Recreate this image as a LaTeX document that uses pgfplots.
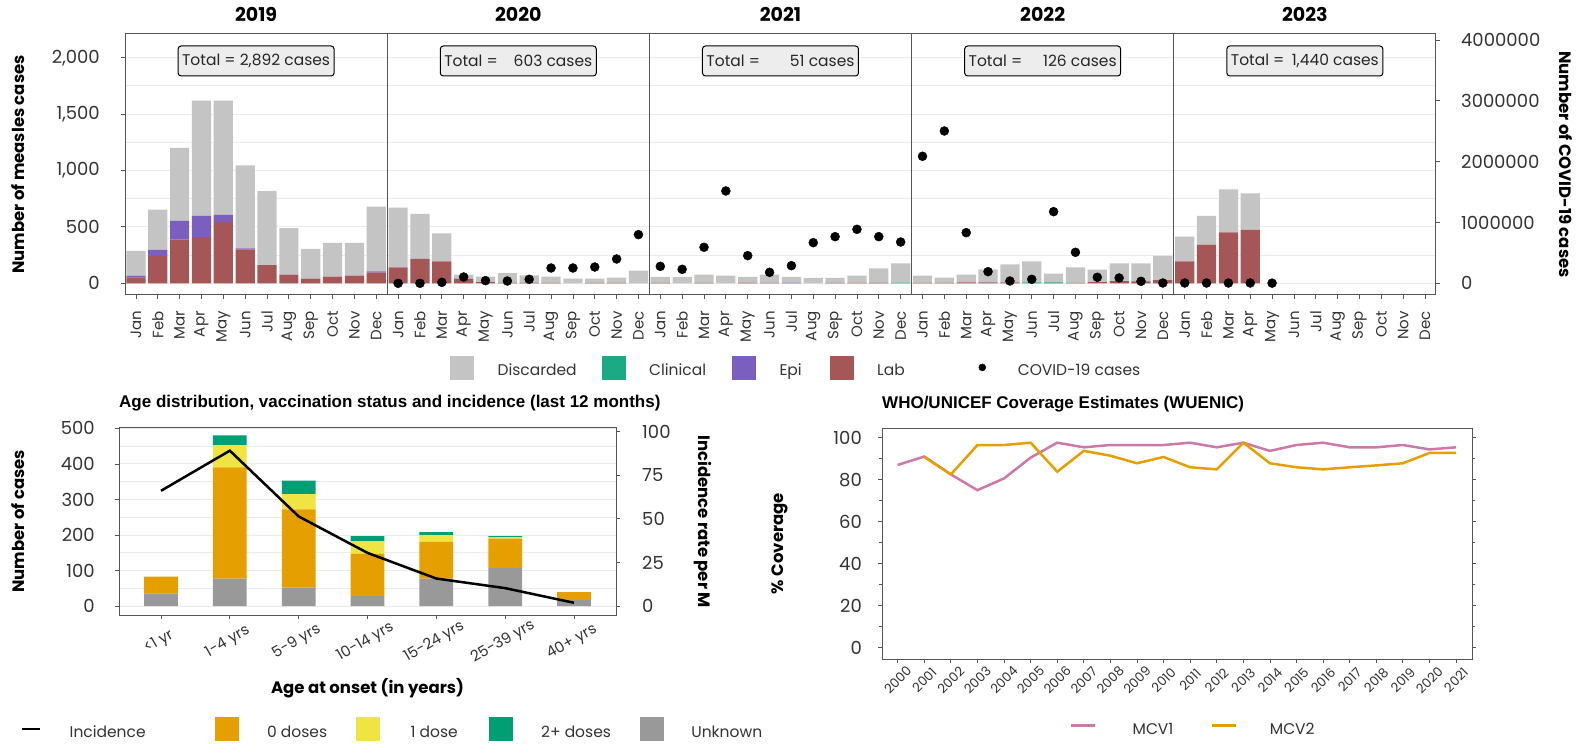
\documentclass[border=0pt]{standalone}
\usepackage{pgfplots}
\pgfplotsset{compat=1.18}
\usepackage{pgfplotstable}
\usepackage{fontspec}
\setmainfont{Poppins}
\newfontfamily\titlefont{Liberation Sans}

\newcommand\fsz[1]{\fontsize{#1}{#1}\selectfont}

\definecolor{disc}{HTML}{C4C4C4}
\definecolor{clin}{HTML}{1BAA83}
\definecolor{epi}{HTML}{7B5FC0}
\definecolor{lab}{HTML}{A55656}
\definecolor{dose0}{HTML}{E69F00}
\definecolor{dose1}{HTML}{F0E442}
\definecolor{dose2}{HTML}{009E73}
\definecolor{unk}{HTML}{999999}
\definecolor{mcv1}{HTML}{CC79A7}
\definecolor{mcv2}{HTML}{E69F00}
\definecolor{txt}{HTML}{333333}
\definecolor{frame}{HTML}{555555}
\definecolor{gridc}{HTML}{EBEBEB}
\definecolor{boxfill}{HTML}{EDEDED}

\pgfplotsset{
  /pgf/number format/assume math mode=true,
  every axis/.append style={
    scale only axis,
    axis line style={frame, line width=1pt},
    tick style={frame, line width=0.8pt},
    tick label style={font=\fsz{18}, text=txt},
    legend cell align=left,
  },
}

% monthly measles cases by classification, Jan 2019 = 1
\pgfplotstableread{
x  lab epi clin disc
1  53  12  0  222
2  242 54  0  357
3  387 166 0  647
4  408 189 0  1022
5  544 62  0  1013
6  301 9   0  736
7  160 0   0  656
8  77  0   0  411
9  41  0   0  263
10 59  0   0  299
11 68  0   0  290
12 95  11  0  574
13 142 0   0  529
14 216 0   0  399
15 195 0   0  248
16 41  0   0  36
17 10  0   0  49
18 5   0   0  84
19 5   0   0  66
20 3   0   0  56
21 0   0   0  41
22 3   0   0  38
23 3   0   0  47
24 0   0   0  112
25 4   0   0  52
26 0   0   0  56
27 4   0   0  73
28 0   0   0  68
29 6   0   0  50
30 4   0   0  73
31 0   4   0  52
32 0   0   0  47
33 4   0   0  43
34 4   0   0  64
35 6   0   0  127
36 0   0   6  171
37 4   0   0  64
38 3   0   0  47
39 7   0   0  70
40 7   0   0  117
41 7   0   0  161
42 0   0   7  188
43 4   0   5  77
44 3   0   0  139
45 10  0   0  111
46 18  0   0  159
47 17  0   0  160
48 28  0   0  214
49 195 0   0  219
50 343 0   0  254
51 452 0   0  381
52 473 0   0  325
}\measles

% monthly COVID-19 cases
\pgfplotstableread{
x  c
13 0
14 0
15 16000
16 104000
17 44000
18 38000
19 66000
20 252000
21 252000
22 268000
23 400000
24 800000
25 279000
26 230000
27 592000
28 1518000
29 455000
30 181000
31 290000
32 668000
33 767000
34 888000
35 767000
36 679000
37 2088000
38 2504000
39 833000
40 192000
41 38000
42 66000
43 1178000
44 510000
45 99000
46 88000
47 33000
48 5000
49 5000
50 5000
51 5000
52 5000
53 3000
}\covid

% age groups: cases by vaccination status, incidence per million
\pgfplotstableread{
x unk zero one two inc
0 36  47   0   0   66.1
1 77  313  63  27  89.1
2 52  220  43  38  51.4
3 28  119  35  15  30.5
4 77  104  19  8   15.8
5 107 83   3   4   10.3
6 17  22   0   0   1.9
}\agegroups

% WUENIC coverage
\pgfplotstableread{
year mcv1
2000 87
2001 91
2002 82.5
2003 75
2004 80.6
2005 90.5
2006 97.6
2007 95.4
2008 96.5
2009 96.5
2010 96.5
2011 97.6
2012 95.4
2013 97.6
2014 93.7
2015 96.5
2016 97.6
2017 95.4
2018 95.4
2019 96.5
2020 94.4
2021 95.4
}\mcvone
\pgfplotstableread{
year mcv2
2001 90.8
2002 82.5
2003 96.5
2004 96.5
2005 97.6
2006 83.8
2007 93.7
2008 91.4
2009 87.8
2010 90.8
2011 85.9
2012 84.9
2013 97.6
2014 87.8
2015 85.9
2016 84.9
2017 85.9
2018 86.8
2019 87.8
2020 92.7
2021 92.7
}\mcvtwo

\tikzset{
  totalbox/.style={draw=black, line width=1pt, fill=boxfill, rounded corners=3pt,
    inner xsep=4pt, minimum height=30pt, font=\fsz{15.5}, text=black!85, yshift=-27pt},
  yeartitle/.style={anchor=base, font=\fsz{19}\bfseries, yshift=12pt},
}
\newcommand\total[1]{Total = \hphantom{2,892}\llap{#1} cases}

\begin{document}
\begin{tikzpicture}
\useasboundingbox (0pt,0pt) rectangle (1585pt,745pt);

% ---------- monthly cases, 2019-2023 ----------
\begin{axis}[
  at={(125pt,450pt)}, anchor=south west,
  width=1311pt, height=261pt,
  xmin=0.5, xmax=60.5, ymin=-104, ymax=2210,
  ybar stacked, bar width=0.88,
  clip=false,
  xtick={1,...,60},
  xticklabels={Jan,Feb,Mar,Apr,May,Jun,Jul,Aug,Sep,Oct,Nov,Dec,
               Jan,Feb,Mar,Apr,May,Jun,Jul,Aug,Sep,Oct,Nov,Dec,
               Jan,Feb,Mar,Apr,May,Jun,Jul,Aug,Sep,Oct,Nov,Dec,
               Jan,Feb,Mar,Apr,May,Jun,Jul,Aug,Sep,Oct,Nov,Dec,
               Jan,Feb,Mar,Apr,May,Jun,Jul,Aug,Sep,Oct,Nov,Dec},
  xticklabel style={yshift=-12pt, rotate=90, anchor=east, inner sep=0pt, font=\fsz{15}},
  xtick pos=bottom, ytick pos=left, tick align=outside,
  major tick length=4pt, minor tick length=0pt,
  ytick={0,500,...,2000}, minor ytick={250,750,1250,1750},
  yticklabel style={/pgf/number format/1000 sep={,}, inner sep=0pt, xshift=-21pt},
  ymajorgrids, yminorgrids,
  major grid style={gridc, line width=1pt}, minor grid style={gridc, line width=1pt},
  extra x ticks={12.5,24.5,36.5,48.5}, extra x tick labels={},
  extra x tick style={grid=major, major tick length=0pt,
    major grid style={frame, line width=1pt}},
  ylabel={Number of measles cases},
  ylabel style={at={(axis description cs:-0.0812,0.5)}, anchor=center, font=\fsz{16.5}\bfseries},
  legend columns=-1,
  legend style={at={(0.2479,-0.2778)}, anchor=west, draw=none, fill=none, inner sep=0pt,
    font=\fsz{15.5}, text=txt, nodes={inner sep=0pt},
    /tikz/every odd column/.style={column sep=24pt},
    /tikz/column 2/.style={column sep=25pt},
    /tikz/column 4/.style={column sep=26pt},
    /tikz/column 6/.style={column sep=28pt},
    /tikz/column 8/.style={column sep=66pt}},
]
\addlegendimage{legend image code/.code={\fill[disc] (0pt,-8.6pt) rectangle (23pt,14.4pt);}}
\addlegendentry{Discarded}
\addlegendimage{legend image code/.code={\fill[clin] (0pt,-8.6pt) rectangle (23pt,14.4pt);}}
\addlegendentry{Clinical}
\addlegendimage{legend image code/.code={\fill[epi] (0pt,-8.6pt) rectangle (23pt,14.4pt);}}
\addlegendentry{Epi}
\addlegendimage{legend image code/.code={\fill[lab] (0pt,-8.6pt) rectangle (23pt,14.4pt);}}
\addlegendentry{Lab}
\addlegendimage{legend image code/.code={\path[draw=none, fill=none] (0pt,-8.6pt) rectangle (23pt,14.4pt);
  \fill[black] (11.5pt,3pt) circle (3.5pt);}}
\addlegendentry{COVID-19 cases}

\addplot[fill=lab,  draw=none] table[x=x, y=lab]  {\measles};
\addplot[fill=epi,  draw=none] table[x=x, y=epi]  {\measles};
\addplot[fill=clin, draw=none] table[x=x, y=clin] {\measles};
\addplot[fill=disc, draw=none] table[x=x, y=disc] {\measles};

\node[yeartitle] at (axis cs:6.5,2210)  {2019};
\node[yeartitle] at (axis cs:18.5,2210) {2020};
\node[yeartitle] at (axis cs:30.5,2210) {2021};
\node[yeartitle] at (axis cs:42.5,2210) {2022};
\node[yeartitle] at (axis cs:54.5,2210) {2023};

\node[totalbox] at (axis cs:6.5,2210)  {\total{2,892}};
\node[totalbox] at (axis cs:18.5,2210) {\total{603}};
\node[totalbox] at (axis cs:30.5,2210) {\total{51}};
\node[totalbox] at (axis cs:42.5,2210) {\total{126}};
\node[totalbox] at (axis cs:54.5,2210) {\total{1,440}};
\end{axis}

\begin{axis}[
  at={(125pt,450pt)}, anchor=south west,
  width=1311pt, height=261pt,
  xmin=0.5, xmax=60.5, ymin=-192000, ymax=4098000,
  axis y line*=right, axis x line=none,
  ytick={0,1000000,2000000,3000000,4000000}, scaled y ticks=false,
  yticklabel style={/pgf/number format/fixed, /pgf/number format/1000 sep={},
    inner sep=0pt, xshift=21pt},
  tick align=outside, major tick length=4pt,
  ylabel={Number of COVID-19 cases},
  ylabel style={at={(axis description cs:1.0992,0.5)}, anchor=center, rotate=180,
    font=\fsz{16.5}\bfseries},
]
\addplot[only marks, mark=*, mark size=4.5pt, black] table[x=x, y=c] {\covid};
\end{axis}

% ---------- age distribution ----------
\begin{axis}[
  at={(119pt,130pt)}, anchor=south west,
  width=497pt, height=187pt,
  xmin=-0.61, xmax=6.61, ymin=-25, ymax=501,
  ybar stacked, bar width=0.49,
  xtick={0,...,6},
  xticklabels={<1 yr,1-4 yrs,5-9 yrs,10-14 yrs,15-24 yrs,25-39 yrs,40+ yrs},
  xticklabel style={xshift=-2pt, yshift=-23pt, rotate=30, anchor=center, font=\fsz{15}},
  ytick={0,100,...,500}, minor ytick={50,150,...,450},
  yticklabel style={inner sep=0pt, xshift=-20pt},
  ymajorgrids, yminorgrids,
  major grid style={gridc, line width=1pt}, minor grid style={gridc, line width=1pt},
  xtick pos=bottom, ytick pos=left, tick align=outside,
  major tick length=4pt, minor tick length=0pt,
  title={Age distribution, vaccination status and incidence (last 12 months)},
  title style={at={(0,1)}, anchor=base west, yshift=14pt, inner sep=0pt,
    font=\titlefont\bfseries\fsz{17}},
  xlabel={Age at onset (in years)},
  xlabel style={at={(axis description cs:0.5,-0.39)}, anchor=center, font=\fsz{16.5}\bfseries},
  ylabel={Number of cases},
  ylabel style={at={(axis description cs:-0.2022,0.5)}, anchor=center, font=\fsz{16.5}\bfseries},
  legend columns=-1,
  legend style={at={(-0.1972,-0.6096)}, anchor=west, draw=none, fill=none, inner sep=0pt,
    font=\fsz{15.5}, text=txt, nodes={inner sep=0pt},
    /tikz/column 1/.style={column sep=28pt},
    /tikz/column 2/.style={column sep=69pt},
    /tikz/column 3/.style={column sep=29pt},
    /tikz/column 4/.style={column sep=29pt},
    /tikz/column 5/.style={column sep=31pt},
    /tikz/column 6/.style={column sep=31pt},
    /tikz/column 7/.style={column sep=29pt},
    /tikz/column 8/.style={column sep=29pt},
    /tikz/column 9/.style={column sep=28pt}},
]
\addlegendimage{legend image code/.code={\path[draw=none, fill=none] (0pt,-7.7pt) rectangle (18pt,15.3pt);
  \draw[black, line width=2.5pt] (0pt,3.8pt) -- (18pt,3.8pt);}}
\addlegendentry{Incidence}
\addlegendimage{legend image code/.code={\fill[dose0] (0pt,-7.7pt) rectangle (23pt,15.3pt);}}
\addlegendentry{0 doses}
\addlegendimage{legend image code/.code={\fill[dose1] (0pt,-7.7pt) rectangle (23pt,15.3pt);}}
\addlegendentry{1 dose}
\addlegendimage{legend image code/.code={\fill[dose2] (0pt,-7.7pt) rectangle (23pt,15.3pt);}}
\addlegendentry{2+ doses}
\addlegendimage{legend image code/.code={\fill[unk] (0pt,-7.7pt) rectangle (23pt,15.3pt);}}
\addlegendentry{Unknown}

\addplot[fill=unk,   draw=none] table[x=x, y=unk]  {\agegroups};
\addplot[fill=dose0, draw=none] table[x=x, y=zero] {\agegroups};
\addplot[fill=dose1, draw=none] table[x=x, y=one]  {\agegroups};
\addplot[fill=dose2, draw=none] table[x=x, y=two]  {\agegroups};
\end{axis}

\begin{axis}[
  at={(119pt,130pt)}, anchor=south west,
  width=497pt, height=187pt,
  xmin=-0.61, xmax=6.61, ymin=-5.1, ymax=102.1,
  axis y line*=right, axis x line=none,
  ytick={0,25,...,100},
  yticklabel style={inner sep=0pt, xshift=22pt},
  tick align=outside, major tick length=4pt,
  ylabel={Incidence rate per M},
  ylabel style={at={(axis description cs:1.175,0.5)}, anchor=center, rotate=180,
    font=\fsz{16.5}\bfseries},
]
\addplot[black, line width=2.5pt] table[x=x, y=inc] {\agegroups};
\end{axis}

% ---------- coverage estimates ----------
\begin{axis}[
  at={(882pt,86pt)}, anchor=south west,
  width=590pt, height=231pt,
  xmin=1999.41, xmax=2021.6, ymin=-5.4, ymax=104.6,
  xtick={2000,...,2021},
  xticklabel style={yshift=-17pt, rotate=45, anchor=center, font=\fsz{13},
    /pgf/number format/1000 sep={}},
  ytick={0,20,...,100}, minor ytick={10,30,...,90},
  yticklabel style={inner sep=0pt, xshift=-16pt},
  xtick pos=bottom, ytick pos=both, yticklabel pos=left, tick align=outside,
  major tick length=4pt, minor tick length=3pt,
  title={WHO/UNICEF Coverage Estimates (WUENIC)},
  title style={at={(0,1)}, anchor=base west, yshift=14pt, inner sep=0pt,
    font=\titlefont\bfseries\fsz{17}},
  ylabel={\% Coverage},
  ylabel style={at={(axis description cs:-0.1729,0.5)}, anchor=center, font=\fsz{16.5}\bfseries},
  legend columns=-1,
  legend style={at={(0.3186,-0.290)}, anchor=west, draw=none, fill=none, inner sep=0pt,
    font=\fsz{15.5}, text=txt, nodes={inner sep=0pt},
    /tikz/column 1/.style={column sep=36pt},
    /tikz/column 2/.style={column sep=37pt},
    /tikz/column 3/.style={column sep=33pt}},
  legend image code/.code={\path[draw=none, fill=none] (0pt,-7pt) rectangle (24pt,15pt);
    \draw[#1] (0pt,4.3pt) -- (24pt,4.3pt);},
]
\addplot[mcv1, line width=2.5pt] table[x=year, y=mcv1] {\mcvone};
\addlegendentry{MCV1}
\addplot[mcv2, line width=2.5pt] table[x=year, y=mcv2] {\mcvtwo};
\addlegendentry{MCV2}
\end{axis}
\end{tikzpicture}
\end{document}
